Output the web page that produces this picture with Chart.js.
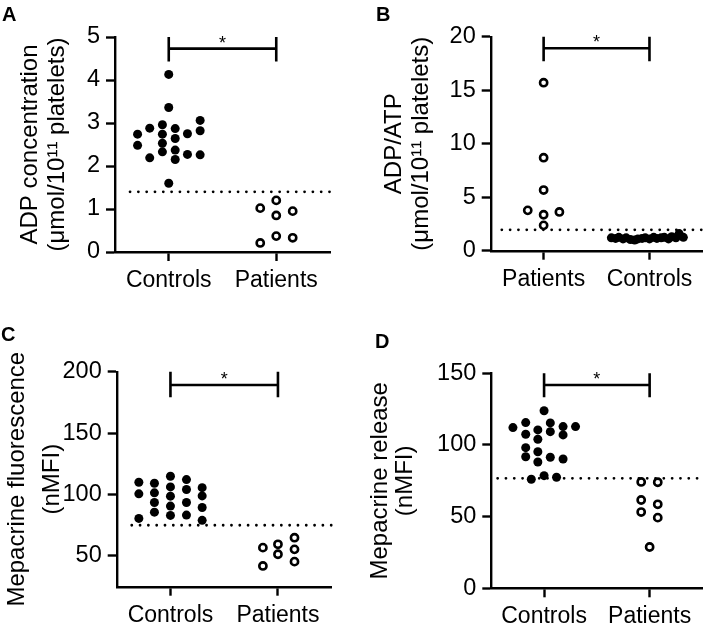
<!DOCTYPE html>
<html>
<head>
<meta charset="utf-8">
<script src="https://cdn.jsdelivr.net/npm/chart.js@4.4.0/dist/chart.umd.min.js"></script>
<style>
body { margin: 0; background: #fff; }
#fig { position: relative; width: 709px; height: 629px; font-family: "Liberation Sans", Arial, sans-serif; }
canvas { position: absolute; }
.lettera { position: absolute; font-weight: bold; font-size: 20px; line-height: 20px; }
</style>
</head>
<body>
<div id="fig">
  <canvas id="cA" width="354" height="310" style="left:0;top:0"></canvas>
  <canvas id="cB" width="355" height="310" style="left:354px;top:0"></canvas>
  <canvas id="cC" width="354" height="319" style="left:0;top:310px"></canvas>
  <canvas id="cD" width="355" height="319" style="left:354px;top:310px"></canvas>
  <div class="lettera" style="left:2px;top:4px">A</div>
  <div class="lettera" style="left:376px;top:4px">B</div>
  <div class="lettera" style="left:1px;top:324px">C</div>
  <div class="lettera" style="left:375px;top:331px">D</div>
</div>
<script>
// --- dati ---
// A: ADP concentration
const catA = ["Controls", "Patients"];
const controlliA = [4.13, 3.36, 2.74, 2.48, 2.88, 2.19, 2.96, 2.74, 2.53, 2.33, 2.87, 2.64, 2.37, 2.15, 2.75, 2.27, 3.06, 2.82, 2.26, 1.60];
const controlliAdx = [0, 0, -0.29, -0.29, -0.177, -0.177, -0.059, -0.059, -0.059, -0.059, 0.06, 0.06, 0.06, 0.06, 0.174, 0.174, 0.292, 0.292, 0.292, 0];
const pazientiA = [1.02, 1.20, 0.85, 0.95, 0.21, 0.37, 0.33];
const pazientiAdx = [-0.149, 0, 0, 0.153, -0.149, 0, 0.153];
const tickA = [0, 1, 2, 3, 4, 5];
const sogliaA = 1.4;

// B: ADP/ATP
const catB = ["Patients", "Controls"];
const pazientiB = [15.7, 8.69, 5.67, 3.77, 3.62, 3.36, 2.37];
const pazientiBdx = [0, 0, 0, -0.15, 0.149, 0, 0];
const controlliB = [1.2, 1.15, 1.25, 1.1, 1.2, 1.05, 1.0, 1.1, 1.15, 1.2, 1.1, 1.25, 1.15, 1.2, 1.25, 1.1, 1.3, 1.2, 1.6, 1.25];
const controlliBdx = [-0.36, -0.32, -0.29, -0.25, -0.22, -0.18, -0.14, -0.11, -0.07, -0.04, 0, 0.04, 0.07, 0.11, 0.14, 0.18, 0.21, 0.25, 0.28, 0.32];
const tickB = [0, 5, 10, 15, 20];
const sogliaB = 1.95;

// C: Mepacrine fluorescence
const catC = ["Controls", "Patients"];
const controlliC = [110, 100.6, 80.6, 109.2, 101.4, 93.5, 85.7, 114.9, 106.2, 98.7, 90.6, 83, 112.2, 104.1, 93.5, 83.3, 105.6, 98.9, 89.5, 79];
const controlliCdx = [-0.294, -0.294, -0.294, -0.149, -0.149, -0.149, -0.149, 0, 0, 0, 0, 0, 0.149, 0.149, 0.149, 0.149, 0.295, 0.295, 0.295, 0.295];
const pazientiC = [56.8, 41.9, 59.5, 51.4, 64.9, 55.4, 45.4];
const pazientiCdx = [-0.14, -0.14, 0, 0, 0.154, 0.154, 0.154];
const tickC = [50, 100, 150, 200];
const sogliaC = 75;

// D: Mepacrine release
const catD = ["Controls", "Patients"];
const controlliD = [123.9, 112.1, 115.6, 107.5, 98.1, 91.8, 110.5, 104, 95.3, 88.1, 115.4, 109.3, 91.4, 112.8, 107, 90.2, 112.8, 76.1, 78.6, 77.5];
const controlliDdx = [0, -0.295, -0.174, -0.174, -0.174, -0.174, -0.059, -0.059, -0.059, -0.059, 0.059, 0.059, 0.059, 0.18, 0.18, 0.18, 0.298, -0.121, 0, 0.118];
const pazientiD = [74.2, 74.0, 61.6, 58.6, 53.2, 49.3, 28.8];
const pazientiDdx = [-0.08, 0.077, -0.08, 0.077, -0.08, 0.077, 0];
const tickD = [0, 50, 100, 150];
const sogliaD = 76.7;

const FONT = '"Liberation Sans", Arial, sans-serif';
const NERO = '#000';

const punti = (valori, dx, centro) => valori.map((v, i) => ({ x: centro + dx[i], y: v }));

// plugin per l'asterisco sopra la parentesi
const asterisco = {
    id: 'asterisco',
    afterDatasetsDraw(chart, args, opts) {
        const { ctx, scales: { x, y } } = chart;
        ctx.save();
        ctx.fillStyle = NERO;
        ctx.font = '18px ' + FONT;
        ctx.textAlign = 'center';
        ctx.textBaseline = 'alphabetic';
        ctx.fillText('*', (x.getPixelForValue(1) + x.getPixelForValue(2)) / 2, y.getPixelForValue(opts.livello));
        ctx.restore();
    }
};

const pannello = (id, p) => {
    const datasets = [
        {
            data: punti(p.pieni, p.pieniDx, p.pieniAt),
            pointRadius: 4.5,
            pointBackgroundColor: NERO,
            pointBorderWidth: 0,
            showLine: false,
        },
        {
            data: punti(p.vuoti, p.vuotiDx, p.vuotiAt),
            pointRadius: 3.6,
            pointBackgroundColor: '#fff',
            pointBorderColor: NERO,
            pointBorderWidth: 2.6,
            showLine: false,
        },
        {
            // linea di soglia tratteggiata
            type: 'line',
            data: [{ x: p.sogliaDa, y: p.soglia }, { x: 2.5, y: p.soglia }],
            borderColor: NERO,
            borderWidth: 2.8,
            borderDash: [0.01, 8.3],
            borderCapStyle: 'round',
            pointRadius: 0,
            clip: false,
        },
        {
            // parentesi di significativita
            type: 'line',
            data: [
                { x: 1, y: p.parentesi[0] }, { x: 1, y: p.parentesi[2] }, { x: 1, y: p.parentesi[1] },
                { x: 2, y: p.parentesi[1] }, { x: 2, y: p.parentesi[0] }, { x: 2, y: p.parentesi[2] },
            ],
            borderColor: NERO,
            borderWidth: 2.6,
            pointRadius: 0,
            clip: false,
        },
    ];

    new Chart(document.getElementById(id), {
        type: 'scatter',
        data: { datasets },
        plugins: [asterisco],
        options: {
            responsive: false,
            animation: false,
            layout: { padding: { left: 0, top: p.padTop, right: p.padRight, bottom: 0 } },
            plugins: {
                legend: { display: false },
                tooltip: { enabled: false },
                asterisco: { livello: p.parentesi[1] },
            },
            scales: {
                x: {
                    type: 'linear',
                    min: 0.5,
                    max: 2.5,
                    afterBuildTicks: (s) => { s.ticks = [1, 2].map((v) => ({ value: v })); },
                    afterFit: (s) => { s.height = p.altX; },
                    ticks: {
                        callback: (v, i) => p.cat[i],
                        color: NERO,
                        font: { family: FONT, size: 23 },
                        padding: 6,
                        maxRotation: 0,
                        autoSkip: false,
                    },
                    grid: { drawOnChartArea: false, tickLength: 9, tickWidth: 2.4, tickColor: NERO },
                    border: { color: NERO, width: 2.4 },
                },
                y: {
                    min: p.yMin,
                    max: p.yMax,
                    afterBuildTicks: (s) => { s.ticks = p.tick.map((v) => ({ value: v })); },
                    afterFit: (s) => { s.width = p.largY; },
                    ticks: {
                        color: NERO,
                        font: { family: FONT, size: 23.5 },
                        padding: 6,
                    },
                    grid: { drawOnChartArea: false, tickLength: 9, tickWidth: 2.4, tickColor: NERO },
                    border: { color: NERO, width: 2.4 },
                    title: {
                        display: true,
                        text: p.titolo,
                        color: NERO,
                        font: { family: FONT, size: 24, lineHeight: p.interlinea },
                        padding: { top: p.titoloPad, bottom: 0 },
                    },
                },
            },
        },
    });
};

pannello('cA', {
    cat: catA, pieni: controlliA, pieniDx: controlliAdx, pieniAt: 1,
    vuoti: pazientiA, vuotiDx: pazientiAdx, vuotiAt: 2,
    soglia: sogliaA, sogliaDa: 0.64, parentesi: [5, 4.73, 4.43],
    yMin: 0, yMax: 5, tick: tickA,
    titolo: ['ADP concentration', '(\u03bcmol/10\u00b9\u00b9 platelets)'],
    interlinea: '27px', titoloPad: 16.5,
    largY: 115, altX: 58, padTop: 37, padRight: 24,
});

pannello('cB', {
    cat: catB, pieni: controlliB, pieniDx: controlliBdx, pieniAt: 2,
    vuoti: pazientiB, vuotiDx: pazientiBdx, vuotiAt: 1,
    soglia: sogliaB, sogliaDa: 0.605, parentesi: [20, 18.92, 17.7],
    yMin: 0, yMax: 20, tick: tickB,
    titolo: ['ADP/ATP', '(\u03bcmol/10\u00b9\u00b9 platelets)'],
    interlinea: '27px', titoloPad: 26.5,
    largY: 136.7, altX: 59.3, padTop: 36.7, padRight: 3.3,
});

pannello('cC', {
    cat: catC, pieni: controlliC, pieniDx: controlliCdx, pieniAt: 1,
    vuoti: pazientiC, vuotiDx: pazientiCdx, vuotiAt: 2,
    soglia: sogliaC, sogliaDa: 0.64, parentesi: [200, 189.2, 179.2],
    yMin: 25, yMax: 200, tick: tickC,
    titolo: ['Mepacrine fluorescence', '(nMFI)'],
    interlinea: '35px', titoloPad: 0,
    largY: 116.7, altX: 42.3, padTop: 61.7, padRight: 22.3,
});

pannello('cD', {
    cat: catD, pieni: controlliD, pieniDx: controlliDdx, pieniAt: 1,
    vuoti: pazientiD, vuotiDx: pazientiDdx, vuotiAt: 2,
    soglia: sogliaD, sogliaDa: 0.56, parentesi: [150, 141.8, 133.3],
    yMin: 0, yMax: 150, tick: tickD,
    titolo: ['Mepacrine release', '(nMFI)'],
    interlinea: '25px', titoloPad: 13.5,
    largY: 137.3, altX: 40.7, padTop: 63.3, padRight: 3.3,
});
</script>
</body>
</html>
